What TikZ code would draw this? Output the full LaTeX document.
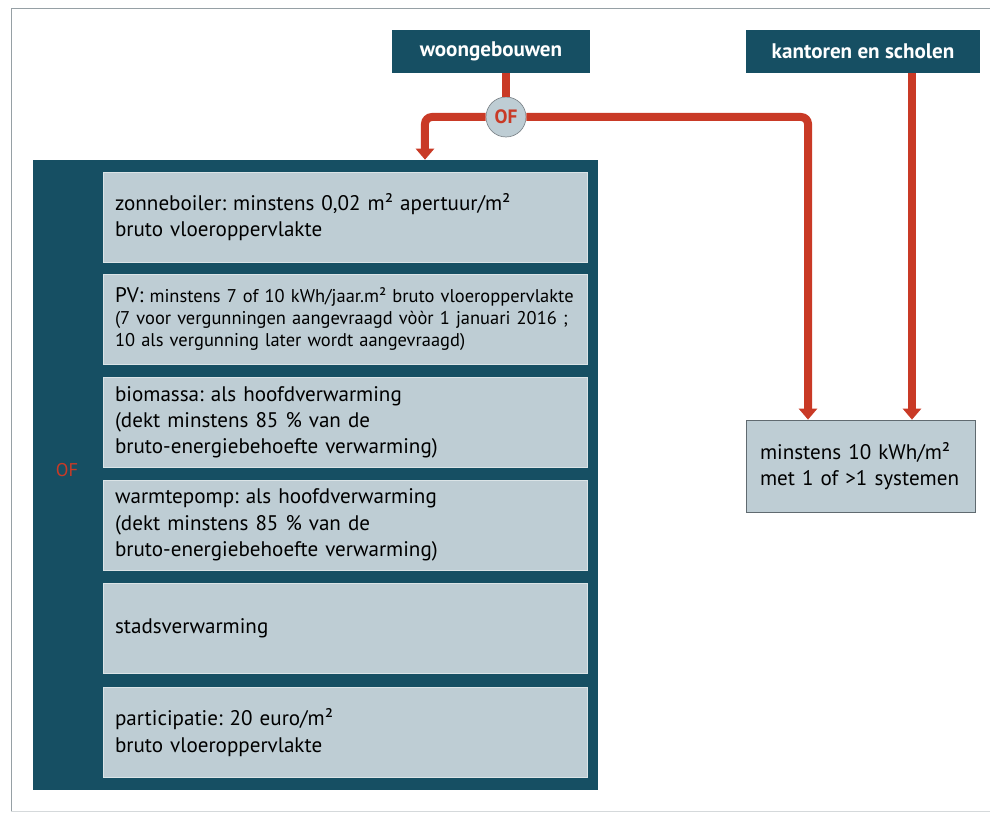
\documentclass[tikz,border=0pt]{standalone}
\usepackage{fontspec}
\setmainfont{PT Sans}
\usetikzlibrary{arrows.meta,positioning}
\definecolor{ebTeal}{RGB}{22,79,99}
\definecolor{ebRed}{RGB}{201,58,38}
\definecolor{ebGrey}{RGB}{190,205,212}
\definecolor{ebEdge}{RGB}{96,106,112}
\definecolor{ebFrame}{RGB}{150,160,165}
\frenchspacing

\begin{document}
\begin{tikzpicture}[
  x=0.02cm, y=-0.02cm,
  font=\fontsize{12}{15}\selectfont,
  kop/.style={fill=ebTeal, text=white, font=\fontsize{12}{15}\selectfont\bfseries,
    minimum height=0.86cm, inner sep=0pt},
  optie/.style={fill=ebGrey, draw=ebGrey!55!white, align=left, text width=9.2cm,
    minimum height=1.8cm, inner xsep=0.24cm, inner ysep=0pt},
  eis/.style={fill=ebGrey, draw=ebEdge, align=left, text width=4.02cm,
    minimum height=1.84cm, inner xsep=0.28cm, inner ysep=0pt},
  of/.style={circle, fill=ebGrey, draw=ebEdge!80, minimum size=0.8cm, inner sep=0pt,
    text=ebRed, font=\fontsize{11}{12}\selectfont\bfseries},
  pijl/.style={draw=ebRed, line width=0.16cm, rounded corners=0.14cm,
    -{Triangle[width=0.36cm,length=0.22cm]}},
  lijn/.style={draw=ebRed, line width=0.16cm}
]
  \useasboundingbox (0,0) rectangle (990,813);
  % kader
  \draw[ebFrame, line width=0.5pt] (990,8) -| (11,811);
  \draw[ebFrame!40, line width=0.5pt] (11,811) -- (990,811);

  \node[kop, minimum width=3.96cm] (wg) at (491,51.5) {woongebouwen};
  \node[kop, minimum width=4.68cm] (ks) at (863,51.5) {kantoren en scholen};
  \node[of] (keus) at (506,117) {OF};

  \node[fill=ebTeal, minimum width=11.3cm, minimum height=12.6cm, inner sep=0pt] (blok) at (315.5,475) {};
  \node[text=ebRed, font=\fontsize{10.5}{12}\selectfont] (of2) at (67,470) {OF};

  \node[optie] (zon) at (345,217) {zonneboiler: minstens 0,02 m² apertuur/m²\\bruto vloeroppervlakte};
  \node[optie, font=\fontsize{10.5}{12.5}\selectfont] (pv) at (345,319.5) {{\fontsize{12}{15}\selectfont PV:} minstens 7 of 10 kWh/jaar.m² bruto vloeroppervlakte\\(7 voor vergunningen aangevraagd vòòr 1 januari 2016 ;\\10 als vergunning later wordt aangevraagd)};
  \node[optie] (bio) at (345,422.5) {biomassa: als hoofdverwarming\\(dekt minstens 85 \% van de\\bruto-energiebehoefte verwarming)};
  \node[optie] (wp) at (345,525) {warmtepomp: als hoofdverwarming\\(dekt minstens 85 \% van de\\bruto-energiebehoefte verwarming)};
  \node[optie] (stad) at (345,628.5) {stadsverwarming};
  \node[optie] (part) at (345,732.5) {participatie: 20 euro/m²\\bruto vloeroppervlakte};

  \node[eis] (min) at (860.5,466) {minstens 10 kWh/m²\\met 1 of >1 systemen};

  \coordinate (bin) at ([xshift=2.19cm]blok.north);
  \coordinate (win) at ([xshift=-1.05cm]min.north);
  \coordinate (kin) at ([xshift=1.03cm]min.north);
  \draw[lijn] (wg.south -| keus.north) -- (keus.north);
  \draw[pijl] (keus.west) -| (bin);
  \draw[pijl] (keus.east) -| (win);
  \draw[pijl] (ks.south -| kin) -- (kin);
\end{tikzpicture}
\end{document}
